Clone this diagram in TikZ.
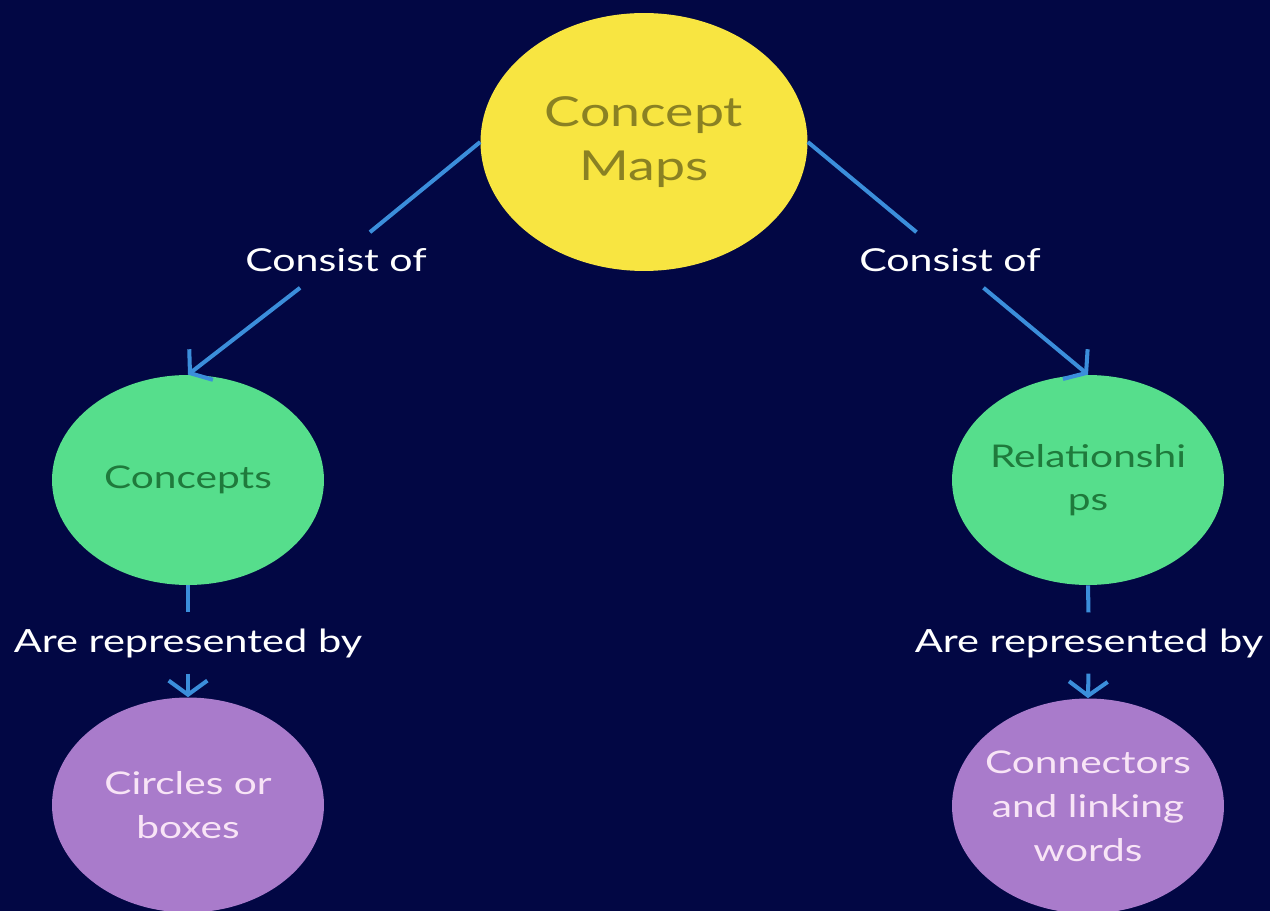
\documentclass[tikz,border=0pt]{standalone}
\usepackage{fontspec}
\setmainfont{Lato}[FakeStretch=1.3]
\usepackage{tikz}
\usetikzlibrary{arrows.meta,shapes.geometric}

\definecolor{bgnavy}{HTML}{020744}
\definecolor{linkblue}{HTML}{3B8EDB}
\definecolor{mapyellow}{HTML}{F8E541}
\definecolor{mapolive}{HTML}{8A8123}
\definecolor{conceptgreen}{HTML}{56DE8C}
\definecolor{conceptdark}{HTML}{1F7A3C}
\definecolor{wordpurple}{HTML}{A97BCB}
\definecolor{wordpink}{HTML}{F8E4F6}

% keep long lines from widening the bubble
\newcommand{\slimline}[1]{\makebox[0pt]{#1}}

\tikzset{
    bubble/.style={ellipse, inner sep=0pt, align=center},
    topbubble/.style={bubble, fill=mapyellow, text=mapolive, minimum width=6.54cm, minimum height=5.16cm,
        font=\fontsize{23.5}{30.6}\selectfont},
    greenbubble/.style={bubble, fill=conceptgreen, text=conceptdark, minimum width=5.44cm, minimum height=4.2cm,
        font=\fontsize{17.8}{24.4}\selectfont},
    purplebubble/.style={bubble, fill=wordpurple, text=wordpink, minimum width=5.44cm, minimum height=4.3cm,
        font=\fontsize{17.8}{25}\selectfont},
    linklabel/.style={text=white, inner xsep=6pt, inner ysep=9pt},
    link/.style={linkblue, line width=2.3pt},
    linkarrow/.style={link, -{Straight Barb[length=8pt, width=22pt, line width=2.3pt]}}
}

\begin{document}
\begin{tikzpicture}[x=0.02cm, y=-0.02cm]
\fill[bgnavy] (0,0) rectangle (1270,911);
\useasboundingbox (0,0) rectangle (1270,911);

% concepts
\node[topbubble] (maps) at (644,142) {Concept\\Maps};
\node[greenbubble] (concepts) at (188,480) {Concepts};
\node[greenbubble] (relations) at (1088,480) {\slimline{Relationshi}\\ps};
\node[purplebubble] (circles) at (188,805) {Circles or\\boxes};
\node[purplebubble] (connectors) at (1088,806) {\slimline{Connectors}\\\slimline{and linking}\\words};

% linking words
\node[linklabel, font=\fontsize{18}{20}\selectfont] (consistL) at (336,260) {Consist of};
\node[linklabel, font=\fontsize{18}{20}\selectfont] (consistR) at (950,260) {Consist of};
\node[linklabel, font=\fontsize{18.2}{20}\selectfont] (reprL) at (188,643) {Are represented by};
\node[linklabel, font=\fontsize{18.2}{20}\selectfont] (reprR) at (1089,643) {Are represented by};

% connectors
\draw[link] (maps.west) -- (consistL);
\draw[linkarrow] (consistL) -- (concepts.north);
\draw[link] (maps.east) -- (consistR);
\draw[linkarrow] (consistR) -- (relations.north);
\draw[link] (concepts.south) -- (reprL);
\draw[linkarrow] (reprL) -- (circles.north);
\draw[link] (relations.south) -- (reprR);
\draw[linkarrow] (reprR) -- (connectors.north);
\end{tikzpicture}
\end{document}
